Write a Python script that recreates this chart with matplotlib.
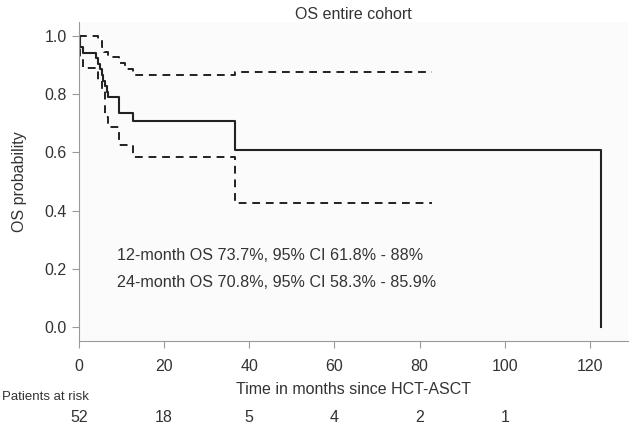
import matplotlib
matplotlib.use("Agg")
import matplotlib.pyplot as plt
from matplotlib.transforms import blended_transform_factory

plt.rcParams['font.family'] = ['Liberation Sans', 'DejaVu Sans']

# Kaplan-Meier estimate (step times in months, survival after each step)
km_t = [0, 0.2, 0.9, 4.0, 4.5, 4.9, 5.3, 5.7, 6.1, 6.5, 6.9, 9.4, 12.7, 36.6, 122.5]
km_s = [1.0, 0.962, 0.942, 0.923, 0.904, 0.885, 0.865, 0.846, 0.827, 0.808,
        0.789, 0.737, 0.708, 0.607, 0.0]

# 95% CI bounds
up_t = [0, 4.5, 5.3, 5.8, 6.9, 9.4, 10.7, 12.7, 36.6, 83.0]
up_s = [1.0, 0.986, 0.963, 0.945, 0.927, 0.906, 0.886, 0.866, 0.877, 0.877]
lo_t = [0, 0.3, 1.0, 4.4, 5.3, 6.1, 6.9, 9.4, 12.7, 36.6, 83.0]
lo_s = [1.0, 0.93, 0.889, 0.845, 0.81, 0.723, 0.688, 0.625, 0.585, 0.426, 0.426]

risk_t = [0, 20, 40, 60, 80, 100]
risk_n = [52, 18, 5, 4, 2, 1]

fig = plt.figure(figsize=(6.32, 4.29), dpi=100)
# axes: x 79..628 px, y 22..341 px
ax = fig.add_axes([0.125, 1 - 341 / 429, 0.869, 319 / 429])
ax.set_facecolor('#fbfbfb')

ax.step(km_t, km_s, where='post', color='#222222', lw=1.5)
ax.step(up_t, up_s, where='post', color='#222222', lw=1.4, dashes=(4, 3))
ax.step(lo_t, lo_s, where='post', color='#222222', lw=1.4, dashes=(4, 3))

ax.set_xlim(0, 129)
ax.set_ylim(-0.048, 1.048)
ax.set_xticks(range(0, 121, 20))
ax.set_yticks([0, 0.2, 0.4, 0.6, 0.8, 1.0])
ax.set_yticklabels(['0.0', '0.2', '0.4', '0.6', '0.8', '1.0'])
for s in ['top', 'right']:
    ax.spines[s].set_visible(False)
for s in ['left', 'bottom']:
    ax.spines[s].set_color('#9a9a9a')
ax.tick_params(colors='#9a9a9a', labelcolor='#333333', labelsize=11.5, length=5)
ax.tick_params(axis='x', pad=8)
ax.tick_params(axis='y', pad=4)

ax.set_title('OS entire cohort', fontsize=11.5, color='#333333', x=0.5, pad=1)
ax.set_ylabel('OS probability', fontsize=11.5, color='#333333', labelpad=12)
ax.set_xlabel('Time in months since HCT-ASCT', fontsize=11.5, color='#333333', labelpad=6)

ax.text(8.9, 0.245, '12-month OS 73.7%, 95% CI 61.8% - 88%', fontsize=11.6,
        color='#333333', va='center')
ax.text(8.9, 0.152, '24-month OS 70.8%, 95% CI 58.3% - 85.9%', fontsize=11.6,
        color='#333333', va='center')

tr = blended_transform_factory(ax.transData, fig.transFigure)
fig.text(0.003, 1 - 397 / 429, 'Patients at risk', fontsize=9.5, color='#333333', va='center')
for t, n in zip(risk_t, risk_n):
    ax.text(t, 1 - 418 / 429, str(n), transform=tr, ha='center', va='center',
            fontsize=11.5, color='#333333')

fig.savefig('out.png', dpi=100, facecolor='white')
